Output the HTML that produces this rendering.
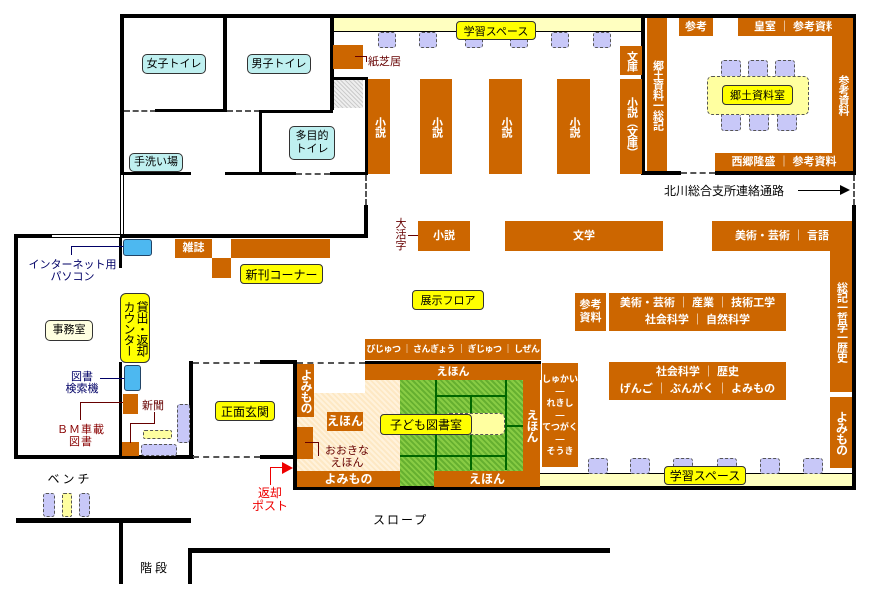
<!DOCTYPE html>
<html><head><meta charset="utf-8"><style>
*{margin:0;padding:0;box-sizing:border-box}
body{width:870px;height:600px;background:#fff;position:relative;overflow:hidden;font-family:"Liberation Sans","Noto Sans CJK JP",sans-serif}
div{position:absolute}
.w{background:#000}
.dh{border-top:2px dashed #555;height:0}
.dv{border-left:2px dashed #555;width:0}
.s{background:#cc6600;color:#fff;font-weight:bold;font-size:11px;display:flex;align-items:center;justify-content:center;text-align:center;line-height:13px}
.v{writing-mode:vertical-rl;text-orientation:upright;letter-spacing:-1px}
.y{background:#ffff00;border:1px solid #333;border-radius:4px;font-size:11px;display:flex;align-items:center;justify-content:center;color:#000}
.c{background:#bff0f0;border:1px solid #333;border-radius:5px;font-size:11px;display:flex;align-items:center;justify-content:center;text-align:center;line-height:13px}
.ch{background:#c8c8f8;border:1px dashed #555;border-radius:3px}
.t{font-size:11px;line-height:12px;text-align:center}
</style></head><body>
<div style="left:332px;top:18px;width:310px;height:14px;background:#ffffc0;border-bottom:1px solid #000"></div>
<div style="left:540px;top:473px;width:312px;height:14px;background:#ffffc0;border-top:1px solid #000"></div>
<div style="left:296px;top:364px;width:110px;height:124px;background:repeating-linear-gradient(45deg,#fde8c4 0 2px,#fff2dc 2px 4px)"></div>
<div style="left:313px;top:364px;width:52px;height:29px;background:#fff"></div>
<div style="left:400px;top:380px;width:123px;height:108px;background:repeating-linear-gradient(45deg,#66b030 0 2px,#88cc44 2px 4px)"></div>
<div style="left:435px;top:380px;width:2px;height:90px;background:#006600"></div>
<div style="left:470px;top:395px;width:2px;height:75px;background:#006600"></div>
<div style="left:505px;top:380px;width:2px;height:90px;background:#006600"></div>
<div style="left:435px;top:395px;width:70px;height:2px;background:#006600"></div>
<div style="left:400px;top:455px;width:105px;height:2px;background:#006600"></div>
<div style="left:505px;top:425px;width:18px;height:2px;background:#006600"></div>
<div style="left:445px;top:413px;width:60px;height:22px;background:#ffffa0;border:1px dashed #555;border-radius:5px"></div>

<div class="w" style="left:120px;top:14px;width:736px;height:4px"></div>
<div class="w" style="left:120px;top:14px;width:4px;height:161px"></div>
<div style="left:120px;top:175px;width:4px;height:62px;border-left:1px solid #000;border-right:1px solid #000"></div>
<div class="w" style="left:223px;top:14px;width:4px;height:97px"></div>
<div class="w" style="left:330px;top:14px;width:4px;height:96px"></div>
<div class="w" style="left:330px;top:77px;width:37px;height:3px"></div>
<div class="w" style="left:365px;top:77px;width:3px;height:97px"></div>
<div class="dh" style="left:124px;top:110px;width:32px"></div>
<div class="w" style="left:155px;top:109px;width:72px;height:3px"></div>
<div class="dh" style="left:227px;top:110px;width:33px"></div>
<div class="w" style="left:259px;top:110px;width:3px;height:64px"></div>
<div class="w" style="left:259px;top:110px;width:74px;height:3px"></div>
<div class="w" style="left:120px;top:172px;width:71px;height:3px"></div>
<div class="w" style="left:225px;top:172px;width:71px;height:3px"></div>
<div class="dh" style="left:296px;top:173px;width:34px"></div>
<div class="w" style="left:330px;top:172px;width:38px;height:3px"></div>
<div class="dv" style="left:365px;top:175px;height:30px"></div>
<div class="w" style="left:364px;top:205px;width:4px;height:33px"></div>
<div class="w" style="left:120px;top:234px;width:248px;height:4px"></div>
<div class="w" style="left:14px;top:234px;width:38px;height:4px"></div>
<div style="left:52px;top:234px;width:68px;height:4px;border-top:1px solid #000;border-bottom:1px solid #000"></div>
<div class="w" style="left:14px;top:234px;width:4px;height:225px"></div>
<div class="w" style="left:14px;top:455px;width:180px;height:4px"></div>
<div class="w" style="left:119px;top:238px;width:3px;height:30px"></div>
<div class="w" style="left:119px;top:362px;width:3px;height:95px"></div>
<div class="w" style="left:189px;top:361px;width:4px;height:98px"></div>
<div class="dh" style="left:193px;top:362px;width:67px"></div>
<div class="dh" style="left:193px;top:456px;width:67px"></div>
<div class="w" style="left:260px;top:360px;width:36px;height:4px"></div>
<div class="w" style="left:260px;top:455px;width:36px;height:4px"></div>
<div class="w" style="left:293px;top:360px;width:4px;height:130px"></div>
<div class="dh" style="left:297px;top:362px;width:68px"></div>
<div class="w" style="left:365px;top:361px;width:176px;height:3px"></div>
<div class="w" style="left:293px;top:486px;width:563px;height:4px"></div>
<div class="w" style="left:852px;top:14px;width:4px;height:161px"></div>
<div class="dv" style="left:853px;top:175px;height:30px"></div>
<div class="w" style="left:852px;top:205px;width:4px;height:285px"></div>
<div class="w" style="left:641px;top:14px;width:4px;height:161px"></div>
<div class="w" style="left:641px;top:171px;width:40px;height:4px"></div>
<div class="dh" style="left:681px;top:172px;width:34px"></div>
<div class="w" style="left:715px;top:171px;width:140px;height:4px"></div>
<div class="w" style="left:16px;top:518px;width:175px;height:5px"></div>
<div class="w" style="left:119px;top:518px;width:4px;height:66px"></div>
<div class="w" style="left:188px;top:548px;width:422px;height:5px"></div>
<div class="w" style="left:188px;top:548px;width:4px;height:36px"></div>

<div class="c" style="left:142px;top:54px;width:64px;height:20px">女子トイレ</div>
<div class="c" style="left:247px;top:54px;width:64px;height:20px">男子トイレ</div>
<div class="c" style="left:289px;top:126px;width:46px;height:34px">多目的<br>トイレ</div>
<div class="c" style="left:129px;top:153px;width:54px;height:19px">手洗い場</div>
<div class="s" style="left:333px;top:45px;width:30px;height:24px"></div>
<div style="left:355px;top:56px;width:12px;height:6px;border-top:1px solid #600;border-right:1px solid #600"></div>
<div class="t" style="left:368px;top:56px;color:#600">紙芝居</div>
<div style="left:334px;top:80px;width:29px;height:28px;background:repeating-linear-gradient(45deg,#ccc 0 1px,#eee 1px 3px)"></div>

<div class="ch" style="left:378px;top:32px;width:18px;height:16px"></div>
<div class="ch" style="left:419px;top:32px;width:18px;height:16px"></div>
<div class="ch" style="left:465px;top:32px;width:18px;height:16px"></div>
<div class="ch" style="left:510px;top:32px;width:18px;height:16px"></div>
<div class="ch" style="left:551px;top:32px;width:18px;height:16px"></div>
<div class="ch" style="left:593px;top:32px;width:18px;height:16px"></div>
<div class="y" style="left:456px;top:21px;width:80px;height:19px">学習スペース</div>

<div class="s v" style="left:368px;top:79px;width:22px;height:95px">小説</div>
<div class="s v" style="left:420px;top:79px;width:32px;height:95px">小説</div>
<div class="s v" style="left:489px;top:79px;width:33px;height:95px">小説</div>
<div class="s v" style="left:557px;top:79px;width:33px;height:95px">小説</div>
<div class="s v" style="left:620px;top:46px;width:22px;height:29px">文庫</div>
<div class="s v" style="left:620px;top:79px;width:22px;height:95px">小説（文庫）</div>

<div class="s v" style="left:647px;top:18px;width:20px;height:153px">郷土資料一総記</div>
<div class="s" style="left:679px;top:18px;width:34px;height:18px">参考</div>
<div class="s" style="left:738px;top:18px;width:115px;height:18px;white-space:nowrap">皇室 ｜ 参考資料</div>
<div class="s v" style="left:832px;top:18px;width:21px;height:153px">参考資料</div>
<div class="s" style="left:715px;top:153px;width:138px;height:18px">西郷隆盛 ｜ 参考資料</div>
<div class="ch" style="left:721px;top:60px;width:20px;height:18px"></div>
<div class="ch" style="left:748px;top:60px;width:20px;height:18px"></div>
<div class="ch" style="left:775px;top:60px;width:20px;height:18px"></div>
<div class="ch" style="left:721px;top:113px;width:20px;height:18px"></div>
<div class="ch" style="left:749px;top:113px;width:20px;height:18px"></div>
<div class="ch" style="left:777px;top:113px;width:20px;height:18px"></div>
<div style="left:707px;top:76px;width:102px;height:39px;background:#ffffa0;border:1px dashed #555;border-radius:5px"></div>
<div class="y" style="left:722px;top:85px;width:71px;height:20px">郷土資料室</div>

<div class="t" style="left:664px;top:184px;font-size:12px;line-height:14px">北川総合支所連絡通路</div>
<div style="left:798px;top:190px;width:42px;height:1px;background:#000"></div>
<div style="left:840px;top:185px;width:0;height:0;border-left:10px solid #000;border-top:5px solid transparent;border-bottom:5px solid transparent"></div>

<div class="t" style="left:395px;top:219px;width:12px;color:#600;font-size:11px;line-height:11px">大<br>活<br>字</div>
<div style="left:408px;top:235px;width:10px;height:1px;background:#600"></div>
<div class="s" style="left:418px;top:221px;width:52px;height:30px">小説</div>
<div class="s" style="left:505px;top:221px;width:158px;height:30px">文学</div>
<div class="s" style="left:712px;top:221px;width:140px;height:30px">美術・芸術 ｜ 言語</div>
<div class="s v" style="left:830px;top:251px;width:22px;height:141px">総記一哲学一歴史</div>
<div class="s v" style="left:830px;top:397px;width:22px;height:71px;font-size:12px">よみもの</div>

<div class="s" style="left:175px;top:239px;width:37px;height:19px">雑誌</div>
<div class="s" style="left:231px;top:239px;width:99px;height:19px"></div>
<div class="s" style="left:212px;top:258px;width:19px;height:20px"></div>
<div class="y" style="left:240px;top:264px;width:83px;height:20px;font-size:12px">新刊コーナー</div>
<div style="left:123px;top:239px;width:29px;height:17px;background:#4db8f0;border:1px solid #246;border-radius:3px"></div>
<div style="left:71px;top:246px;width:52px;height:9px;border-top:1px solid #006;border-left:1px solid #006"></div>
<div class="t" style="left:25px;top:259px;width:95px;color:#006">インターネット用<br>パソコン</div>

<div class="y" style="left:412px;top:290px;width:72px;height:20px">展示フロア</div>
<div class="s" style="left:575px;top:293px;width:31px;height:38px">参考<br>資料</div>
<div class="s" style="left:609px;top:293px;width:177px;height:38px;line-height:17px">美術・芸術 ｜ 産業 ｜ 技術工学<br>社会科学 ｜ 自然科学</div>
<div class="s" style="left:609px;top:362px;width:177px;height:38px;line-height:17px">社会科学 ｜ 歴史<br>げんご ｜ ぶんがく ｜ よみもの</div>

<div class="c" style="left:45px;top:320px;width:48px;height:21px;background:#ffffe0">事務室</div>
<div class="y v" style="left:120px;top:293px;width:30px;height:70px;border-radius:6px;font-size:12px;line-height:13px;letter-spacing:-1px">貸出・返却<br>カウンター</div>
<div style="left:124px;top:365px;width:17px;height:26px;background:#4db8f0;border:1px solid #246;border-radius:3px"></div>
<div style="left:100px;top:378px;width:24px;height:1px;background:#006"></div>
<div class="t" style="left:62px;top:371px;width:40px;color:#006">図書<br>検索機</div>
<div class="s" style="left:123px;top:394px;width:15px;height:20px"></div>
<div style="left:80px;top:402px;width:43px;height:18px;border-top:1px solid #600;border-left:1px solid #600"></div>
<div class="t" style="left:55px;top:424px;width:52px;color:#800;letter-spacing:1px">ＢＭ車載<br>図書</div>
<div class="s" style="left:122px;top:442px;width:17px;height:14px"></div>
<div style="left:130px;top:423px;width:25px;height:20px;border-top:1px solid #600;border-left:1px solid #600"></div>
<div style="left:154px;top:412px;width:1px;height:12px;background:#600"></div>
<div class="t" style="left:142px;top:400px;color:#600">新聞</div>
<div class="ch" style="left:177px;top:404px;width:13px;height:39px"></div>
<div style="left:143px;top:430px;width:29px;height:9px;background:#ffffa0;border:1px dashed #555;border-radius:2px"></div>
<div class="ch" style="left:141px;top:444px;width:36px;height:12px"></div>
<div class="y" style="left:215px;top:401px;width:60px;height:20px;font-size:12px">正面玄関</div>

<div class="s" style="left:365px;top:339px;width:176px;height:21px;font-size:9px;white-space:nowrap;letter-spacing:-0.5px">びじゅつ ｜ さんぎょう ｜ ぎじゅつ ｜ しぜん</div>
<div class="s" style="left:365px;top:364px;width:176px;height:16px">えほん</div>
<div class="s v" style="left:297px;top:364px;width:17px;height:53px;font-size:12px">よみもの</div>
<div class="s" style="left:327px;top:412px;width:36px;height:19px;font-size:12px">えほん</div>
<div class="s" style="left:297px;top:427px;width:16px;height:32px"></div>
<div style="left:305px;top:442px;width:14px;height:14px;border-top:1px solid #600;border-right:1px solid #600"></div>
<div class="t" style="left:322px;top:445px;width:50px;color:#600">おおきな<br>えほん</div>
<div class="s" style="left:297px;top:471px;width:103px;height:16px;font-size:12px">よみもの</div>
<div class="s" style="left:434px;top:471px;width:106px;height:16px;font-size:12px">えほん</div>
<div class="s v" style="left:523px;top:380px;width:17px;height:91px;font-size:12px">えほん</div>
<div class="y" style="left:380px;top:414px;width:92px;height:21px;font-size:12px">子ども図書室</div>
<div class="s" style="left:542px;top:363px;width:36px;height:104px;font-size:9px;line-height:12px">しゅかい<br>—<br>れきし<br>—<br>てつがく<br>—<br>そうき</div>

<div class="ch" style="left:588px;top:458px;width:20px;height:16px"></div>
<div class="ch" style="left:630px;top:458px;width:20px;height:16px"></div>
<div class="ch" style="left:673px;top:458px;width:20px;height:16px"></div>
<div class="ch" style="left:717px;top:458px;width:20px;height:16px"></div>
<div class="ch" style="left:760px;top:458px;width:20px;height:16px"></div>
<div class="ch" style="left:803px;top:458px;width:20px;height:16px"></div>
<div class="y" style="left:664px;top:466px;width:82px;height:19px;font-size:12px">学習スペース</div>

<div style="left:270px;top:467px;width:1px;height:18px;background:#e00"></div>
<div style="left:270px;top:467px;width:12px;height:1px;background:#e00"></div>
<div style="left:282px;top:462px;width:0;height:0;border-left:11px solid #e00;border-top:6px solid transparent;border-bottom:6px solid transparent"></div>
<div class="t" style="left:247px;top:487px;width:46px;color:#e00;font-size:12px;line-height:13px">返却<br>ポスト</div>

<div class="t" style="left:45px;top:473px;width:50px;font-size:12px;letter-spacing:3px">ベンチ</div>
<div class="ch" style="left:43px;top:493px;width:12px;height:24px"></div>
<div style="left:62px;top:493px;width:10px;height:24px;background:#ffffa0;border:1px dashed #555;border-radius:2px"></div>
<div class="ch" style="left:79px;top:493px;width:11px;height:24px"></div>
<div class="t" style="left:373px;top:514px;font-size:12px;letter-spacing:2px">スロープ</div>
<div class="t" style="left:140px;top:562px;font-size:12px;letter-spacing:3px">階段</div>
</body></html>
